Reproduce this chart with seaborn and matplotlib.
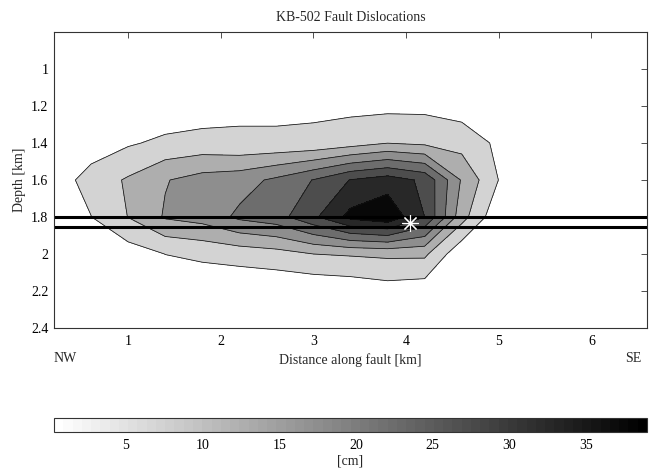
import numpy as np
import matplotlib
matplotlib.use("Agg")
import matplotlib.pyplot as plt
import seaborn as sns
from matplotlib.colors import ListedColormap, Normalize

# ---- data ----
distance_km = [0.2, 0.6, 1.0, 1.4, 1.8, 2.2, 2.6, 3.0, 3.4, 3.8, 4.2, 4.6, 5.0, 5.4, 5.8, 6.2, 6.6]
depth_km = [0.8, 1.0, 1.2, 1.4, 1.6, 1.8, 2.0, 2.2, 2.4]
# slip [cm], one list per depth row
slip_d08 = [0.3, 0.3, 0.3, 0.3, 0.3, 0.3, 0.3, 0.3, 0.3, 0.3, 0.3, 0.3, 0.3, 0.3, 0.3, 0.3, 0.3]
slip_d10 = [0.3, 0.4, 0.5, 0.5, 0.6, 0.8, 0.8, 1.0, 1.0, 0.8, 0.8, 0.6, 0.5, 0.4, 0.3, 0.3, 0.3]
slip_d12 = [0.4, 0.8, 1.5, 1.4, 2.2, 3.8, 3.8, 4.0, 3.8, 3.7, 3.8, 2.6, 1.5, 0.6, 0.4, 0.3, 0.3]
slip_d14 = [0.8, 2.1, 4.4, 6.1, 6.8, 6.0, 6.0, 6.2, 7.8, 9.9, 9.0, 8.1, 4.0, 1.0, 0.5, 0.3, 0.3]
slip_d16 = [2.0, 7.2, 10.6, 14.7, 17.0, 18.0, 21.0, 25.2, 30.2, 32.5, 29.0, 14.5, 4.9, 1.2, 0.5, 0.3, 0.3]
slip_d18 = [1.5, 4.9, 10.1, 15.5, 17.0, 21.0, 23.0, 29.0, 36.5, 39.0, 30.0, 12.0, 1.0, 0.6, 0.4, 0.3, 0.3]
slip_d20 = [0.6, 1.5, 2.5, 5.05, 6.0, 7.0, 8.0, 10.0, 10.5, 11.0, 11.0, 1.0, 0.5, 0.4, 0.3, 0.3, 0.3]
slip_d22 = [0.3, 0.5, 0.8, 1.5, 1.5, 1.0, 1.0, 0.9, 1.5, 2.7, 2.0, 0.5, 0.3, 0.3, 0.3, 0.3, 0.3]
slip_d24 = [0.3, 0.3, 0.3, 0.3, 0.3, 0.3, 0.3, 0.3, 0.3, 0.5, 0.4, 0.3, 0.3, 0.3, 0.3, 0.3, 0.3]
contour_levels = [5, 10, 15, 20, 25, 30, 35, 39.5]
profile_depths = [1.80, 1.855]
hypocenter = (4.04, 1.832)
colorbar_ticks = [5, 10, 15, 20, 25, 30, 35]
ytick_vals = [1, 1.2, 1.4, 1.6, 1.8, 2, 2.2, 2.4]
ytick_labels = ["1", "1.2", "1.4", "1.6", "1.8", "2", "2.2", "2.4"]
xtick_vals = [1, 2, 3, 4, 5, 6]

slip = np.array([slip_d08, slip_d10, slip_d12, slip_d14, slip_d16,
                 slip_d18, slip_d20, slip_d22, slip_d24])
X, Y = np.meshgrid(distance_km, depth_km)
vmin, vmax = float(slip.min()), float(slip.max())

sns.set_theme(style="white")
plt.rcParams["font.family"] = ["Liberation Serif", "DejaVu Serif"]
plt.rcParams["font.size"] = 10

cmap = ListedColormap(plt.cm.gray_r(np.linspace(0, 1, 64)))
norm = Normalize(vmin=vmin, vmax=vmax)

fig = plt.figure(figsize=(6.63, 4.70), dpi=100)
ax = fig.add_axes([54 / 663, 1 - 328 / 470, (647 - 54) / 663, (328 - 32) / 470])

cf = ax.contourf(X, Y, slip, levels=contour_levels, cmap=cmap, norm=norm)
ax.contour(X, Y, slip, levels=contour_levels[:-1], colors="#111111", linewidths=0.55)
for d in profile_depths:
    ax.axhline(d, color="black", lw=2.2)
ax.plot([hypocenter[0]], [hypocenter[1]], marker=(8, 2, 0), color="white",
        markersize=12, mew=0.8, linestyle="none")

ax.set_xlim(0.2, 6.6)
ax.set_ylim(2.4, 0.8)
ax.set_xticks(xtick_vals)
ax.set_xticklabels([str(v) for v in xtick_vals])
ax.set_yticks(ytick_vals)
ax.set_yticklabels(ytick_labels)
ax.tick_params(direction="in", top=True, right=True, length=4, width=0.6,
               colors="#333333", labelcolor="black", labelsize=10)
ax.tick_params(axis="x", pad=5)
ax.tick_params(axis="y", pad=4)
for s in ax.spines.values():
    s.set_color("#333333")
    s.set_linewidth(0.8)
ax.set_title("KB-502 Fault Dislocations", fontsize=10, pad=8)
ax.set_xlabel("Distance along fault [km]", fontsize=10, labelpad=4)
ax.set_ylabel("Depth [km]", fontsize=10, labelpad=4)
ax.text(0.0, -0.102, "NW", transform=ax.transAxes, ha="left", va="center", fontsize=10)
ax.text(0.99, -0.102, "SE", transform=ax.transAxes, ha="right", va="center", fontsize=10)

cax = fig.add_axes([54 / 663, 1 - 432 / 470, (647 - 54) / 663, 14 / 470])
sm = matplotlib.cm.ScalarMappable(norm=norm, cmap=cmap)
cb = fig.colorbar(sm, cax=cax, orientation="horizontal", ticks=colorbar_ticks)
cb.outline.set_edgecolor("#333333")
cb.outline.set_linewidth(0.8)
cax.tick_params(direction="in", top=True, bottom=True, length=4, width=0.6,
                colors="#333333", labelcolor="black", labelsize=10, pad=5)
fig.text(350 / 663, 1 - 461 / 470, "[cm]", ha="center", va="center", fontsize=10)

fig.savefig("out.png", dpi=100)
